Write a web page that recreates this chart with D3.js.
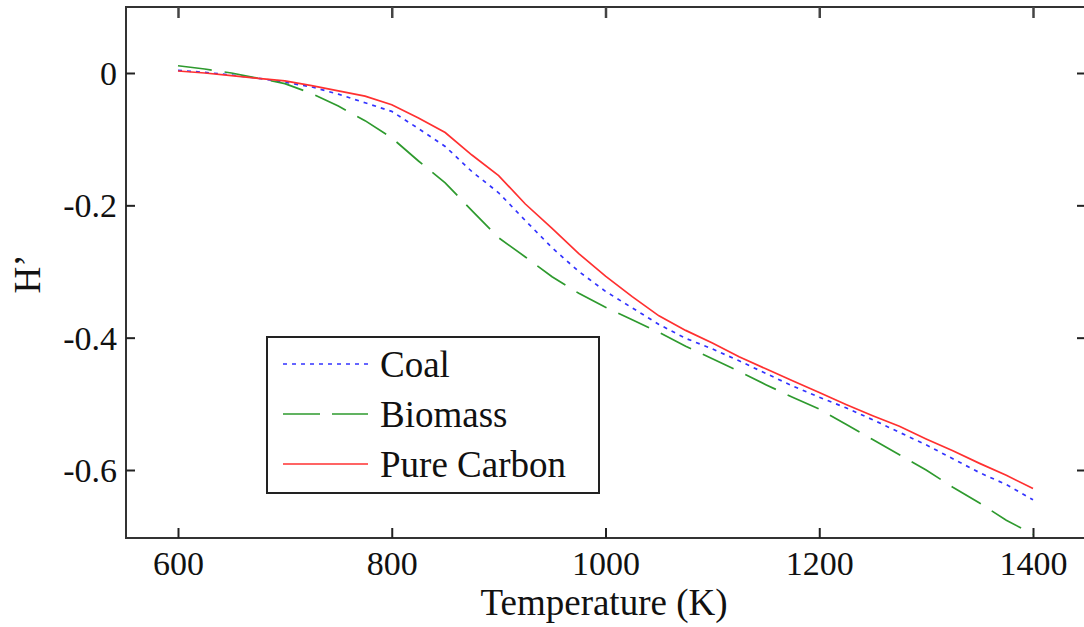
<!DOCTYPE html>
<html>
<head>
<meta charset="utf-8">
<script src="https://cdn.jsdelivr.net/npm/d3@7"></script>
<style>
  body { margin: 0; background: #fff; }
  svg { display: block; }
  .tick-label { font-family: "Liberation Serif", "Times New Roman", serif; font-size: 34px; fill: #111; }
  .big-label { font-family: "Liberation Serif", "Times New Roman", serif; font-size: 37px; fill: #111; }
</style>
</head>
<body>
<div id="chart"></div>
<script>
// temperature (K)
var temps = [600, 625, 650, 675, 700, 725, 750, 775, 800, 825, 850, 875, 900, 925, 950, 975,
    1000, 1025, 1050, 1075, 1100, 1125, 1150, 1175, 1200, 1225, 1250, 1275, 1300, 1325, 1350, 1375, 1400];

var coal = [0.004, 0.001, -0.003, -0.008, -0.014, -0.021, -0.032, -0.045, -0.058, -0.084, -0.111, -0.149,
    -0.181, -0.223, -0.264, -0.300, -0.330, -0.355, -0.380, -0.401, -0.417, -0.435, -0.454, -0.473,
    -0.490, -0.506, -0.524, -0.543, -0.562, -0.583, -0.604, -0.622, -0.645];

var biomass = [0.011, 0.006, 0.000, -0.008, -0.016, -0.031, -0.050, -0.072, -0.098, -0.133, -0.166, -0.208,
    -0.249, -0.278, -0.308, -0.333, -0.354, -0.373, -0.392, -0.413, -0.432, -0.451, -0.471, -0.490,
    -0.508, -0.531, -0.554, -0.577, -0.600, -0.626, -0.650, -0.676, -0.697];

var pureCarbon = [0.003, 0.000, -0.004, -0.008, -0.012, -0.019, -0.027, -0.035, -0.048, -0.068, -0.090, -0.124,
    -0.155, -0.198, -0.235, -0.273, -0.307, -0.338, -0.367, -0.389, -0.408, -0.429, -0.447, -0.465,
    -0.483, -0.501, -0.518, -0.534, -0.553, -0.571, -0.590, -0.608, -0.628];

var xTicks = [600, 800, 1000, 1200, 1400];
var yTicks = [0, -0.2, -0.4, -0.6];

var seriesNames = ["Coal", "Biomass", "Pure Carbon"];
var seriesValues = [coal, biomass, pureCarbon];

var width = 1084, height = 627;
var frame = { left: 126, right: 1086, top: 7, bottom: 538 };

var styles = [
    { color: "#3333ff", dash: "4,5", width: 1.7 },
    { color: "#2e9a2e", dash: "34,13", width: 1.7 },
    { color: "#ff3030", dash: null, width: 1.7 }
];

var svg = d3.select("#chart").append("svg")
    .attr("width", width)
    .attr("height", height);

var xScale = d3.scaleLinear().domain([600, 1400]).range([178, 1033]);
var yScale = d3.scaleLinear().domain([0, -0.6]).range([73, 470]);

// frame
svg.append("rect")
    .attr("x", frame.left).attr("y", frame.top)
    .attr("width", frame.right - frame.left)
    .attr("height", frame.bottom - frame.top)
    .attr("fill", "none")
    .attr("stroke", "#333")
    .attr("stroke-width", 2);

// bottom axis, ticks pointing inward
var xAxis = d3.axisBottom(xScale).tickValues(xTicks).tickSize(-10).tickPadding(13)
    .tickFormat(d3.format("d"));
var gx = svg.append("g")
    .attr("transform", "translate(0," + frame.bottom + ")")
    .call(xAxis);
gx.select(".domain").remove();
gx.selectAll("line").attr("stroke", "#222").attr("stroke-width", 2);
gx.selectAll("text").attr("class", "tick-label").attr("font-size", null).attr("font-family", null);

// top ticks
var gxt = svg.append("g")
    .attr("transform", "translate(0," + frame.top + ")")
    .call(d3.axisTop(xScale).tickValues(xTicks).tickSize(-11).tickFormat(""));
gxt.select(".domain").remove();
gxt.selectAll("line").attr("stroke", "#444").attr("stroke-width", 2.5);

// left axis
var yAxis = d3.axisLeft(yScale).tickValues(yTicks).tickSize(-9).tickPadding(9)
    .tickFormat(function(d) { return d === 0 ? "0" : d3.format(".1f")(d).replace("−", "-"); });
var gy = svg.append("g")
    .attr("transform", "translate(" + frame.left + ",0)")
    .call(yAxis);
gy.select(".domain").remove();
gy.selectAll("line").attr("stroke", "#222").attr("stroke-width", 2);
gy.selectAll("text").attr("class", "tick-label").attr("font-size", null).attr("font-family", null)
    .attr("dy", "0.34em");

// right ticks
var gyr = svg.append("g")
    .attr("transform", "translate(" + frame.right + ",0)")
    .call(d3.axisRight(yScale).tickValues(yTicks).tickSize(-9).tickFormat(""));
gyr.select(".domain").remove();
gyr.selectAll("line").attr("stroke", "#222").attr("stroke-width", 2);

// axis titles
svg.append("text")
    .attr("class", "big-label")
    .attr("x", 604).attr("y", 615)
    .attr("text-anchor", "middle")
    .text("Temperature (K)");

svg.append("text")
    .attr("class", "big-label")
    .attr("transform", "translate(40,274) rotate(-90)")
    .attr("text-anchor", "middle")
    .text("H’");

// curves
var line = d3.line()
    .x(function(d) { return xScale(d[0]); })
    .y(function(d) { return yScale(d[1]); });

seriesValues.forEach(function(vals, i) {
    var pts = temps.map(function(t, j) { return [t, vals[j]]; });
    svg.append("path")
        .attr("d", line(pts))
        .attr("fill", "none")
        .attr("stroke", styles[i].color)
        .attr("stroke-width", styles[i].width)
        .attr("stroke-dasharray", styles[i].dash);
});

// legend
var legend = svg.append("g").attr("transform", "translate(267,337)");
legend.append("rect")
    .attr("width", 332).attr("height", 156)
    .attr("fill", "#fff")
    .attr("stroke", "#222")
    .attr("stroke-width", 2);

seriesNames.forEach(function(name, i) {
    var cy = 27 + i * 50;
    legend.append("line")
        .attr("x1", 16).attr("x2", 101)
        .attr("y1", cy).attr("y2", cy)
        .attr("stroke", styles[i].color)
        .attr("stroke-width", styles[i].width)
        .attr("stroke-dasharray", styles[i].dash === "34,13" ? "37,12" : styles[i].dash);
    legend.append("text")
        .attr("class", "big-label")
        .attr("x", 113).attr("y", cy)
        .attr("dy", "0.35em")
        .text(name);
});
</script>
</body>
</html>
